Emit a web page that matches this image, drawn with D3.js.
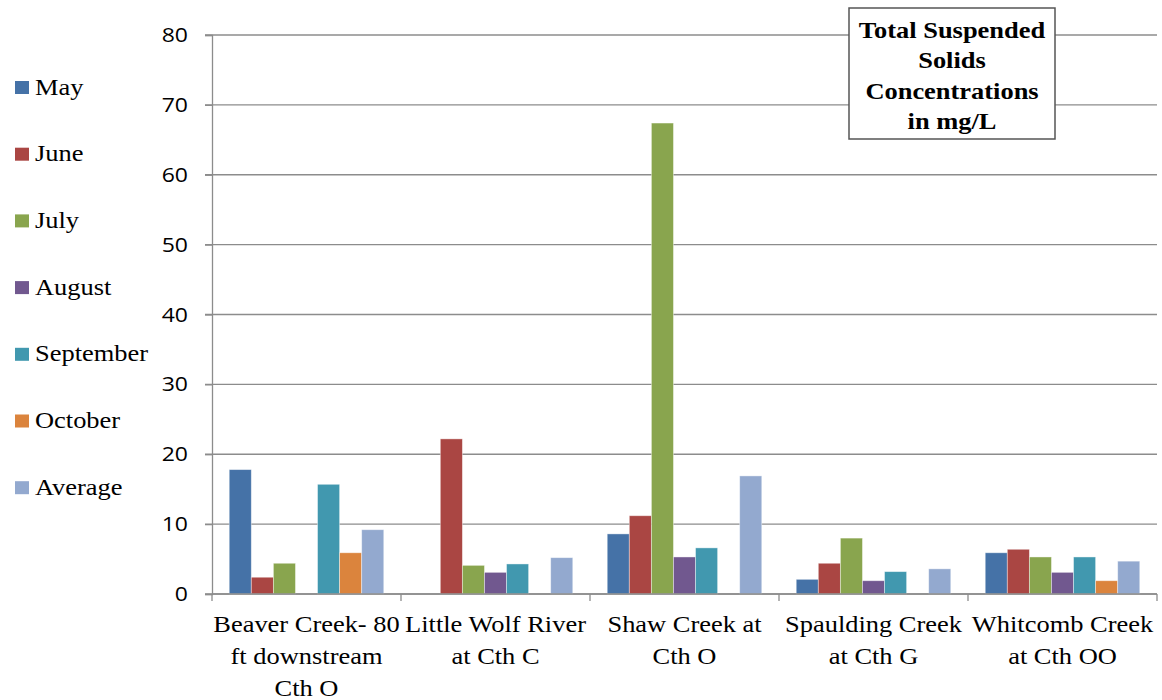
<!DOCTYPE html>
<html><head><meta charset="utf-8">
<script src="https://cdn.jsdelivr.net/npm/d3@7"></script>
<style>body{margin:0;background:#fff}svg{display:block}
.serif{font-family:"Liberation Serif","Tinos","Times New Roman","DejaVu Serif",serif}
.sans{font-family:"Open Sans","Noto Sans",sans-serif}
</style>
</head><body><svg id="c" width="1162" height="700"></svg>
<script>
const categories = [
  ["Beaver Creek- 80", "ft downstream", "Cth O"],
  ["Little Wolf River", "at Cth C"],
  ["Shaw Creek at", "Cth O"],
  ["Spaulding Creek", "at Cth G"],
  ["Whitcomb Creek", "at Cth OO"]
];
const seriesNames = ["May", "June", "July", "August", "September", "October", "Average"];
const colors = ["#4572A7", "#AA4643", "#89A54E", "#71588F", "#4198AF", "#DB843D", "#93A9CF"];
const may       = [17.8, null, 8.6, 2.1, 5.9];
const june      = [2.4, 22.2, 11.2, 4.4, 6.4];
const july      = [4.4, 4.1, 67.4, 8.0, 5.3];
const august    = [null, 3.1, 5.3, 1.9, 3.1];
const september = [15.7, 4.3, 6.6, 3.2, 5.3];
const october   = [5.9, null, null, null, 1.9];
const average   = [9.2, 5.2, 16.9, 3.6, 4.7];
const yTicks = [0, 10, 20, 30, 40, 50, 60, 70, 80];
const titleLines = ["Total Suspended", "Solids", "Concentrations", "in mg/L"];

const SX = 1.15; // horizontal stretch seen in the reference text
const seriesValues = [may, june, july, august, september, october, average];
const svg = d3.select("#c");
const L = 212, R = 1157, T = 35, B = 594;
const idx = d3.range(categories.length);
const x = d3.scaleBand().domain(idx).range([L, R]).paddingInner(0).paddingOuter(0);
const y = d3.scaleLinear().domain([0, 80]).range([B, T]);
const inner = d3.scaleBand().domain(d3.range(seriesNames.length)).range([0, x.bandwidth()]).paddingOuter(0.78).paddingInner(0);

function stext(parent, px, py, cls, size, anchor) {
  return parent.append("g").attr("transform", `translate(${px},${py}) scale(${SX},1)`)
    .append("text").attr("class", cls).attr("text-anchor", anchor).style("font-size", size + "px").attr("fill", "#000");
}

// gridlines
svg.append("g").selectAll("line").data(yTicks).join("line")
  .attr("x1", L - 7).attr("x2", R).attr("y1", d => y(d)).attr("y2", d => y(d))
  .attr("stroke", "#8c8c8c").attr("stroke-width", 1.3);

// y axis
const yAx = svg.append("g").attr("transform", `translate(${L},0)`)
  .call(d3.axisLeft(y).tickValues(yTicks).tickSize(7));
yAx.select(".domain").attr("stroke", "#8c8c8c").attr("stroke-width", 1.3);
yAx.selectAll(".tick line").attr("stroke", "#8c8c8c").attr("stroke-width", 1.3);
yAx.selectAll(".tick text").remove();
yTicks.forEach(v => stext(svg, 188, y(v) + 7, "sans", 20, "end").text(v));

// bars
seriesValues.forEach((vals, s) => {
  svg.append("g").selectAll("rect").data(idx.filter(i => vals[i] != null)).join("rect")
    .attr("x", i => x(i) + inner(s))
    .attr("width", inner.bandwidth())
    .attr("y", i => y(vals[i]))
    .attr("height", i => B - y(vals[i]))
    .attr("fill", colors[s])
    .attr("stroke", "rgba(255,255,255,0.5)").attr("stroke-width", 0.8);
});

// x axis
const xAx = svg.append("g").attr("transform", `translate(0,${B})`);
xAx.append("line").attr("x1", L).attr("x2", R).attr("y1", 0).attr("y2", 0).attr("stroke", "#8c8c8c").attr("stroke-width", 1.3);
xAx.selectAll("line.t").data(d3.range(categories.length + 1)).join("line").attr("class", "t")
  .attr("x1", i => L + i * x.bandwidth()).attr("x2", i => L + i * x.bandwidth())
  .attr("y1", 0).attr("y2", 7).attr("stroke", "#8c8c8c").attr("stroke-width", 1.3);
categories.forEach((lines, i) => {
  const t = stext(svg, x(i) + x.bandwidth() / 2, 632, "serif", 23, "middle");
  lines.forEach((ln, k) => t.append("tspan").attr("x", 0).attr("y", k * 32).text(ln));
});

// legend
const lg = svg.append("g");
seriesNames.forEach((n, s) => {
  const cy = 87 + s * 66.7;
  lg.append("rect").attr("x", 15).attr("y", cy - 6).attr("width", 14).attr("height", 13).attr("fill", colors[s]);
  stext(lg, 35, cy + 7.5, "serif", 23, "start").text(n);
});

// title box
svg.append("rect").attr("x", 849).attr("y", 8).attr("width", 206).attr("height", 131)
  .attr("fill", "#fff").attr("stroke", "#555").attr("stroke-width", 1.5);
const tt = stext(svg, 952, 38, "serif", 23, "middle").style("font-weight", "bold");
titleLines.forEach((ln, k) => tt.append("tspan").attr("x", 0).attr("y", k * 30.5).text(ln));
</script></body></html>
